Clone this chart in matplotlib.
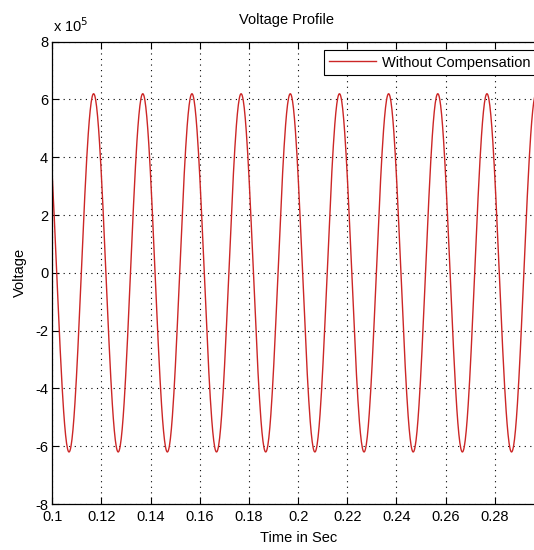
import numpy as np
import matplotlib
matplotlib.use("Agg")
import matplotlib.pyplot as plt
from matplotlib.ticker import FixedLocator, FuncFormatter

# --- data ---
t_start, t_end = 0.1, 0.3          # time span shown (s)
amplitude = 6.2e5                  # peak voltage
frequency = 50.0                   # Hz (peaks every 0.02 s)
first_peak = 0.1168                # time of first positive peak (s)
n_samples = 1000

x_ticks = [0.1, 0.12, 0.14, 0.16, 0.18, 0.2, 0.22, 0.24, 0.26, 0.28]
x_tick_labels = ["0.1", "0.12", "0.14", "0.16", "0.18", "0.2", "0.22", "0.24", "0.26", "0.28"]
y_ticks = [-8e5, -6e5, -4e5, -2e5, 0, 2e5, 4e5, 6e5, 8e5]
series_label = "Without Compensation"

t = np.linspace(t_start, t_end, n_samples)
v = amplitude * np.cos(2 * np.pi * frequency * (t - first_peak))

plt.rcParams['font.family'] = ['Liberation Sans Narrow', 'Liberation Sans', 'DejaVu Sans']
fs = 10.5

fig = plt.figure(figsize=(5.34, 5.50), dpi=100)
ax = fig.add_axes([52.3 / 534, 46 / 550, (544 - 52.3) / 534, (504 - 41.7) / 550])

ax.plot(t, v, color='#cc2626', lw=1.0, label=series_label)
ax.set_xlim(t_start, t_end)
ax.set_ylim(-8e5, 8e5)

ax.xaxis.set_major_locator(FixedLocator(x_ticks))
ax.set_xticklabels(x_tick_labels)
ax.yaxis.set_major_locator(FixedLocator(y_ticks))
ax.yaxis.set_major_formatter(FuncFormatter(lambda val, pos: f"{val / 1e5:.0f}"))

ax.tick_params(direction='in', length=5, width=0.8, labelsize=fs, top=True, right=True,
               colors='black', pad=3)
ax.tick_params(axis='x', pad=4)
for s in ax.spines.values():
    s.set_linewidth(0.9)

ax.grid(True, color='black', linestyle=(0, (1, 4)), linewidth=0.8)

ax.set_title("Voltage Profile", fontsize=fs, x=0.476, pad=13)
ax.set_xlabel("Time in Sec", fontsize=fs, labelpad=5)
ax.set_ylabel("Voltage", fontsize=fs, labelpad=6)

fig.text(53 / 534, 1 - 32 / 550, r"x 10$^{5}$", fontsize=fs, ha='left', va='baseline')

leg = ax.legend(loc='upper right', fontsize=fs, fancybox=False, framealpha=1,
                edgecolor='black', handlelength=3.2, borderaxespad=0.6,
                borderpad=0.35, handletextpad=0.4)
leg.get_frame().set_linewidth(0.8)

fig.savefig("out.png", dpi=100)
